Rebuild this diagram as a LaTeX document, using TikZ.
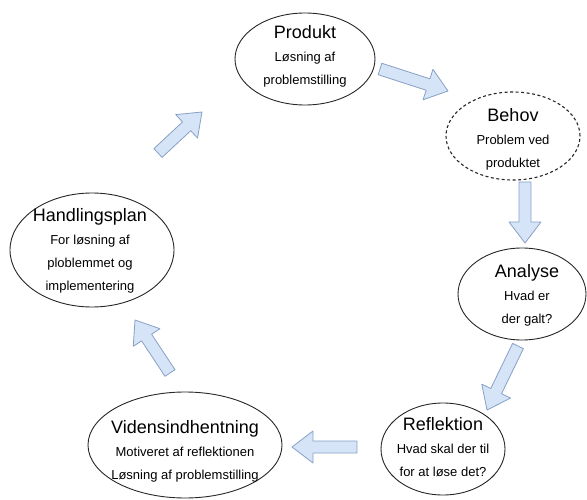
\documentclass[tikz,border=0pt]{standalone}
\usepackage{fontspec}
\setmainfont{Liberation Sans}
\usepackage{tikz}
\usetikzlibrary{shapes.geometric, calc}

\definecolor{arrowfill}{RGB}{214,228,247}
\definecolor{arrowline}{RGB}{135,160,198}

\tikzset{
  phase/.style={ellipse, draw=black!85, line width=0.9pt, inner sep=0pt},
  phasetext/.style={align=center, inner sep=0pt, font=\fontsize{13}{23}\selectfont},
  blockarr/.style={draw=arrowline, fill=arrowfill, line width=0.8pt, line join=round},
}
\newcommand{\ttl}[1]{{\fontsize{18}{23}\selectfont #1}}
% block arrow from coordinate #1 to coordinate #2
\newcommand{\blockarrow}[2]{%
  \draw[blockarr] let \p1=($(#2)-(#1)$), \n1={atan2(\y1,\x1)}, \n2={veclen(\x1,\y1)} in
    [shift={(#1)}, rotate=\n1]
    (0pt,-6pt) -- ({\n2*1pt-21pt},-6pt) -- ({\n2*1pt-21pt},-16pt) -- ({\n2*1pt},0pt)
    -- ({\n2*1pt-21pt},16pt) -- ({\n2*1pt-21pt},6pt) -- (0pt,6pt) -- cycle;}

\begin{document}
\begin{tikzpicture}[x=1pt, y=-1pt]
	\useasboundingbox (0,0) rectangle (587,500);
	% Ellipses:
	\node[phase, minimum width=140, minimum height=92](produkt) at (305, 59){};
	\node[phase, dashed, dash pattern=on 3pt off 2.5pt, line width=1.1pt, minimum width=134, minimum height=88](behov) at (513, 136){};
	\node[phase, minimum width=128, minimum height=92](analyse) at (522, 294){};
	\node[phase, minimum width=124, minimum height=92](reflektion) at (443, 449){};
	\node[phase, minimum width=194, minimum height=106](viden) at (185, 445){};
	\node[phase, minimum width=164, minimum height=114](handling) at (92, 250){};
	% Texts:
	\node[phasetext](produkt-t) at (305, 56){\ttl{Produkt}\\Løsning af\\problemstilling};
	\node[phasetext](behov-t) at (513, 139){\ttl{Behov}\\Problem ved\\produktet};
	\node[phasetext](analyse-t) at (527, 295){\ttl{Analyse}\\Hvad er\\der galt?};
	\node[phasetext](reflektion-t) at (443, 447){\ttl{Reflektion}\\Hvad skal der til\\for at løse det?};
	\node[phasetext](viden-t) at (185, 451){\ttl{Vidensindhentning}\\Motiveret af reflektionen\\Løsning af problemstilling};
	\node[phasetext](handling-t) at (90, 251){\ttl{Handlingsplan}\\For løsning af\\ploblemmet og\\implementering};
	% Arrows:
	\coordinate (a1s) at (380, 69);  \coordinate (a1e) at (448, 91);
	\coordinate (a2s) at (525, 182); \coordinate (a2e) at (525, 243);
	\coordinate (a3s) at (518, 346); \coordinate (a3e) at (487, 410);
	\coordinate (a4s) at (357, 447); \coordinate (a4e) at (292, 447);
	\coordinate (a5s) at (170, 373); \coordinate (a5e) at (135, 320);
	\coordinate (a6s) at (158, 153); \coordinate (a6e) at (202, 112);
	\blockarrow{a1s}{a1e}
	\blockarrow{a2s}{a2e}
	\blockarrow{a3s}{a3e}
	\blockarrow{a4s}{a4e}
	\blockarrow{a5s}{a5e}
	\blockarrow{a6s}{a6e}
\end{tikzpicture}
\end{document}
